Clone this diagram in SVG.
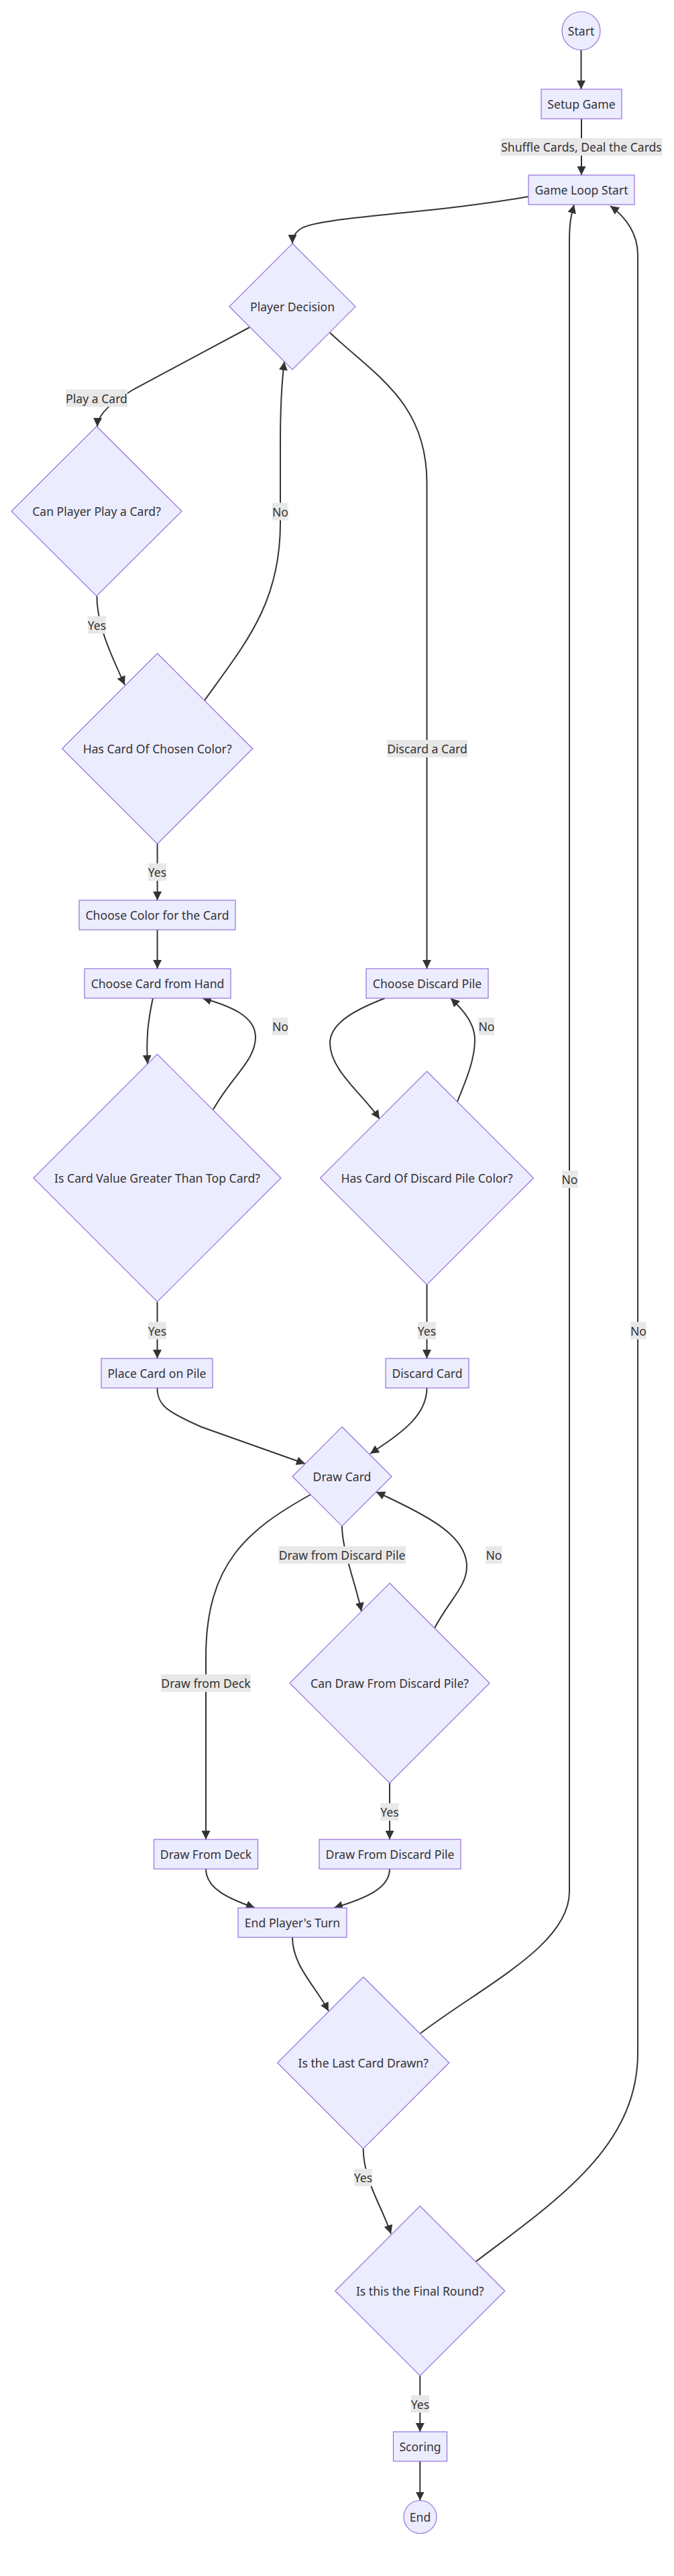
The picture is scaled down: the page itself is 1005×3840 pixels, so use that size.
<svg xmlns="http://www.w3.org/2000/svg" width="1005" height="3840" viewBox="0 0 1005 3840">
<defs>
<marker id="arr" viewBox="0 0 10 10" refX="10" refY="5" markerUnits="userSpaceOnUse" markerWidth="13" markerHeight="13" orient="auto">
<path d="M0,0 L10,5 L0,10 z" fill="#333333"/>
</marker>
<style>
.n{fill:#ECECFF;stroke:#9370DB;stroke-width:1.2}
.t{font-family:"Noto Sans","Open Sans",sans-serif;font-size:17.6px;fill:#333333;text-anchor:middle;dominant-baseline:central}
.e{fill:none;stroke:#333333;stroke-width:2}
.lb{fill:#e8e8e8}
</style>
</defs>
<rect width="1005" height="3840" fill="#ffffff"/>
<g id="edges">
<path class="e" d="M866.5,74.5 L866.5,133" marker-end="url(#arr)"/>
<path class="e" d="M867,177 L867,261" marker-end="url(#arr)"/>
<path class="e" d="M788,293 C650,318 480,323 450,340 C440,346 436,353 436,363" marker-end="url(#arr)"/>
<path class="e" d="M372,488 C330,510 260,548 200,580 C170,598 146,615 145,636" marker-end="url(#arr)"/>
<path class="e" d="M144.5,889 C144.5,935 170,985 186,1021" marker-end="url(#arr)"/>
<path class="e" d="M305,1044 C365,960 418,900 418,780 L418,660 C418,600 420,570 424,539" marker-end="url(#arr)"/>
<path class="e" d="M492,496 C560,560 636.5,600 636.5,720 L636.5,1444" marker-end="url(#arr)"/>
<path class="e" d="M234.6,1258 L234.6,1342" marker-end="url(#arr)"/>
<path class="e" d="M234.6,1386 L234.6,1444" marker-end="url(#arr)"/>
<path class="e" d="M228,1488 C220,1525 218,1550 220,1586" marker-end="url(#arr)"/>
<path class="e" d="M318,1654 C345,1605 382,1580 381,1545 C380,1515 345,1500 302,1488" marker-end="url(#arr)"/>
<path class="e" d="M574,1488 C530,1505 492,1525 492,1555 C492,1595 540,1630 566,1668" marker-end="url(#arr)"/>
<path class="e" d="M682,1642 C695,1610 708,1580 708,1550 C708,1525 690,1505 672,1488" marker-end="url(#arr)"/>
<path class="e" d="M234.5,1941 L234.5,2025" marker-end="url(#arr)"/>
<path class="e" d="M636.5,1915 L636.5,2025" marker-end="url(#arr)"/>
<path class="e" d="M234.5,2069 C234.5,2095 250,2105 300,2127 L455,2182" marker-end="url(#arr)"/>
<path class="e" d="M636.5,2069 C636.5,2110 600,2135 552,2167" marker-end="url(#arr)"/>
<path class="e" d="M463,2228 C370,2280 307,2330 307,2470 L307,2742" marker-end="url(#arr)"/>
<path class="e" d="M510,2275 C510,2310 530,2360 539,2402" marker-end="url(#arr)"/>
<path class="e" d="M648,2427 C670,2385 696,2365 696,2335 C696,2290 640,2260 561,2224" marker-end="url(#arr)"/>
<path class="e" d="M581,2658 L581,2742" marker-end="url(#arr)"/>
<path class="e" d="M307,2786 C307,2815 340,2830 380,2844" marker-end="url(#arr)"/>
<path class="e" d="M581,2786 C581,2815 545,2830 498,2844" marker-end="url(#arr)"/>
<path class="e" d="M436,2888 C436,2930 470,2960 490,2998" marker-end="url(#arr)"/>
<path class="e" d="M627,3031 C720,2960 849,2900 849,2820 L849,360 C849,330 852,320 856,305" marker-end="url(#arr)"/>
<path class="e" d="M541.7,3203 C541.7,3250 570,3290 583,3330" marker-end="url(#arr)"/>
<path class="e" d="M710,3371 C830,3280 951,3200 951,3060 L951,380 C951,350 935,325 910,307" marker-end="url(#arr)"/>
<path class="e" d="M626.3,3541.5 L626.3,3625" marker-end="url(#arr)"/>
<path class="e" d="M626.3,3669 L626.3,3727.5" marker-end="url(#arr)"/>
</g>
<g id="edge-labels">
<rect class="lb" x="746.5" y="206" width="241" height="26"/><text class="t" x="867" y="219">Shuffle Cards, Deal the Cards</text>
<rect class="lb" x="98" y="580.5" width="92" height="26"/><text class="t" x="144" y="593.5">Play a Card</text>
<rect class="lb" x="406" y="749.5" width="23.5" height="26"/><text class="t" x="418" y="762.5">No</text>
<rect class="lb" x="577" y="1103" width="120" height="26"/><text class="t" x="637" y="1116">Discard a Card</text>
<rect class="lb" x="131" y="918.5" width="27" height="26"/><text class="t" x="144.5" y="931.5">Yes</text>
<rect class="lb" x="221" y="1287" width="27" height="26"/><text class="t" x="234.5" y="1300">Yes</text>
<rect class="lb" x="406" y="1517" width="23.5" height="26"/><text class="t" x="418" y="1530">No</text>
<rect class="lb" x="713.5" y="1517" width="23.5" height="26"/><text class="t" x="725.5" y="1530">No</text>
<rect class="lb" x="838" y="1745" width="23.5" height="26"/><text class="t" x="849.5" y="1758">No</text>
<rect class="lb" x="221" y="1970.5" width="27" height="26"/><text class="t" x="234.5" y="1983.5">Yes</text>
<rect class="lb" x="623" y="1970.5" width="27" height="26"/><text class="t" x="636.5" y="1983.5">Yes</text>
<rect class="lb" x="940" y="1970.5" width="23.5" height="26"/><text class="t" x="952" y="1983.5">No</text>
<rect class="lb" x="415" y="2305" width="190" height="26"/><text class="t" x="510" y="2318">Draw from Discard Pile</text>
<rect class="lb" x="724.5" y="2305" width="24" height="26"/><text class="t" x="736.5" y="2318">No</text>
<rect class="lb" x="240" y="2496" width="134" height="26"/><text class="t" x="307" y="2509">Draw from Deck</text>
<rect class="lb" x="567.5" y="2688" width="27" height="26"/><text class="t" x="581" y="2701">Yes</text>
<rect class="lb" x="528" y="3233" width="27" height="26"/><text class="t" x="541.5" y="3246">Yes</text>
<rect class="lb" x="613" y="3570.5" width="27" height="26"/><text class="t" x="626.5" y="3583.5">Yes</text>
</g>
<g id="start"><circle class="n" cx="866.5" cy="46" r="28.5"/><text class="t" x="866.5" y="46">Start</text></g>
<g id="setup"><rect class="n" x="807" y="133" width="120" height="44"/><text class="t" x="867" y="155">Setup Game</text></g>
<g id="gameloop"><rect class="n" x="788" y="261" width="158" height="44"/><text class="t" x="867" y="283">Game Loop Start</text></g>
<g id="decision"><polygon class="n" points="436,363 530,457 436,551 342,457"/><text class="t" x="436" y="457">Player Decision</text></g>
<g id="canplay"><polygon class="n" points="144,635.5 271,762 144,888.5 17,762"/><text class="t" x="144" y="762">Can Player Play a Card?</text></g>
<g id="hascolor"><polygon class="n" points="234.6,974 376.6,1116 234.6,1258 92.6,1116"/><text class="t" x="234.6" y="1116">Has Card Of Chosen Color?</text></g>
<g id="choosecolor"><rect class="n" x="118" y="1342" width="233" height="44"/><text class="t" x="234.5" y="1364">Choose Color for the Card</text></g>
<g id="choosecard"><rect class="n" x="126" y="1444" width="218" height="44"/><text class="t" x="235" y="1466">Choose Card from Hand</text></g>
<g id="greater"><polygon class="n" points="234.5,1571.5 419,1756 234.5,1940.5 50,1756"/><text class="t" x="234.5" y="1756">Is Card Value Greater Than Top Card?</text></g>
<g id="place"><rect class="n" x="151" y="2025" width="166" height="44"/><text class="t" x="234" y="2047">Place Card on Pile</text></g>
<g id="choosediscard"><rect class="n" x="546" y="1444" width="182" height="44"/><text class="t" x="637" y="1466">Choose Discard Pile</text></g>
<g id="hasdiscardcolor"><polygon class="n" points="636.5,1597 795.5,1756 636.5,1915 477.5,1756"/><text class="t" x="636.5" y="1756">Has Card Of Discard Pile Color?</text></g>
<g id="discard"><rect class="n" x="575" y="2025" width="124" height="44"/><text class="t" x="637" y="2047">Discard Card</text></g>
<g id="draw"><polygon class="n" points="510,2127 584,2201 510,2275 436,2201"/><text class="t" x="510" y="2201">Draw Card</text></g>
<g id="candraw"><polygon class="n" points="581,2360 730,2509 581,2658 432,2509"/><text class="t" x="581" y="2509">Can Draw From Discard Pile?</text></g>
<g id="fromdeck"><rect class="n" x="229.5" y="2742" width="155" height="44"/><text class="t" x="307" y="2764">Draw From Deck</text></g>
<g id="fromdiscard"><rect class="n" x="476" y="2742" width="211" height="44"/><text class="t" x="581.5" y="2764">Draw From Discard Pile</text></g>
<g id="endturn"><rect class="n" x="355" y="2844" width="162" height="44"/><text class="t" x="436" y="2866">End Player's Turn</text></g>
<g id="lastcard"><polygon class="n" points="541.7,2947 669.7,3075 541.7,3203 413.7,3075"/><text class="t" x="541.7" y="3075">Is the Last Card Drawn?</text></g>
<g id="finalround"><polygon class="n" points="626.3,3288.5 752.8,3415 626.3,3541.5 499.8,3415"/><text class="t" x="626.3" y="3415">Is this the Final Round?</text></g>
<g id="scoring"><rect class="n" x="586.5" y="3625" width="80" height="44"/><text class="t" x="626.5" y="3647">Scoring</text></g>
<g id="end"><circle class="n" cx="626.5" cy="3752" r="24.5"/><text class="t" x="626.5" y="3752">End</text></g>
</svg>
